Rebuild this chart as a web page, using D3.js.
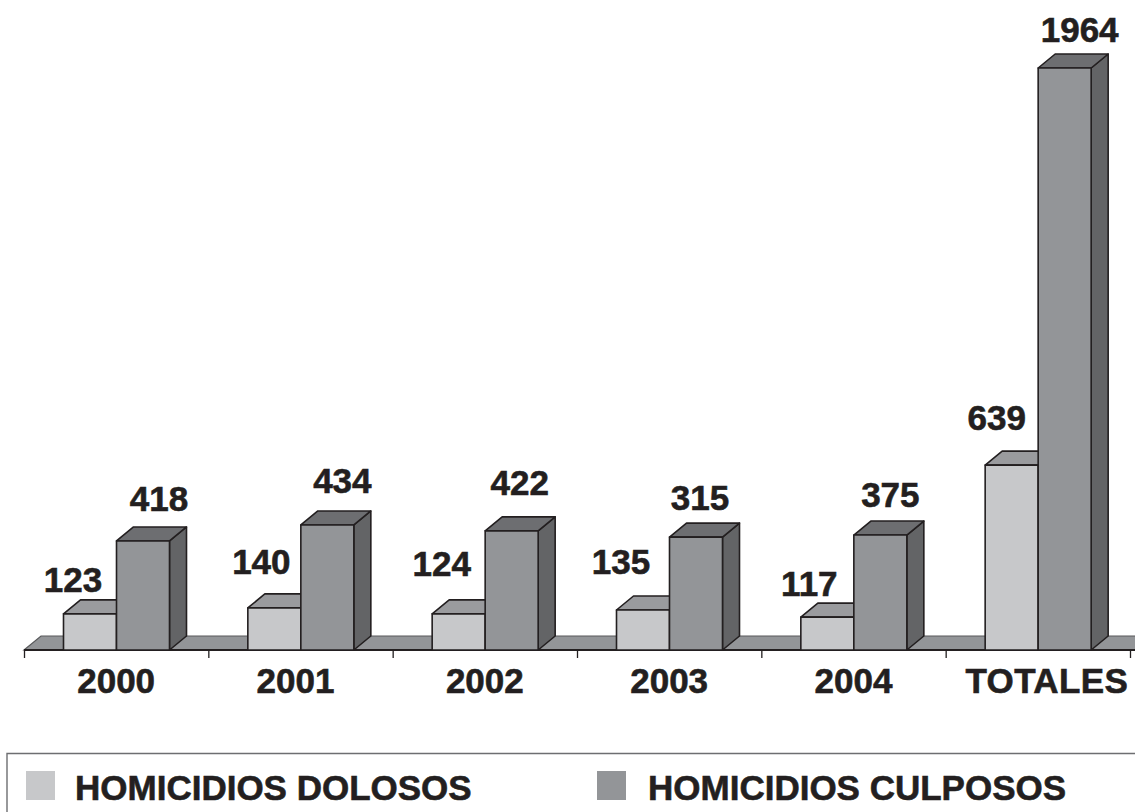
<!DOCTYPE html>
<html><head><meta charset="utf-8">
<script src="https://cdn.jsdelivr.net/npm/d3@7"></script>
<style>html,body{margin:0;padding:0;background:#fff;overflow:hidden}text{font-family:"Liberation Sans",Arial,sans-serif;font-weight:700;fill:#231f20;stroke:#231f20;stroke-width:.6px}</style>
</head><body><svg id="c" width="1135" height="812"></svg>
<script>
const categories = ["2000","2001","2002","2003","2004","TOTALES"];
const seriesNames = ["HOMICIDIOS DOLOSOS","HOMICIDIOS CULPOSOS"];
// printed data labels
const dolososLabels = [123,140,124,135,117,639];
const culpososLabels = [418,434,422,315,375,1964];
// bar heights as actually drawn in the picture, in value units
const dolososDrawn = [122,142,122,135,111,624];
const culpososDrawn = [368,422,402,381,388,1964];
// label nudges relative to each bar's centre / top
const dolososNudge = [[-17,-22],[-13,-34],[-17,-38],[-22,-36],[-18,-21],[-15,-35]];
const culpososNudge = [[16,-30],[15,-32],[8,-36],[4,-27],[10,-28],[15,-26]];
const categoryNudge = [0,-5,0,0,0,9];

const W=1135,H=812, base=650, depthX=17, depthY=14;
const svg=d3.select("#c");
const x=d3.scaleBand().domain(categories).range([24,1130]);
const inner=d3.scaleBand().domain(seriesNames).range([39.5,145.5]);
const y=d3.scaleLinear().domain([0,1964]).range([base,68]);
const ink="#231f20";
const poly=(pts,fill,sw=1.6)=>svg.append("polygon").attr("points",pts.map(p=>p.join(",")).join(" "))
  .attr("fill",fill).attr("stroke",ink).attr("stroke-width",sw).attr("stroke-linejoin","round");

// floor
svg.append("polygon").attr("points",[[24,base],[24+depthX,base-depthY],[1152,base-depthY],[1135,base]].map(p=>p.join(",")).join(" "))
  .attr("fill","#939598").attr("stroke","#58595b").attr("stroke-width",1.2);
svg.append("line").attr("x1",24).attr("x2",1135).attr("y1",base).attr("y2",base).attr("stroke",ink).attr("stroke-width",1.8);

// ticks
const axis=d3.axisBottom(d3.scaleLinear().domain([0,categories.length]).range([24,1130]))
  .ticks(categories.length).tickSize(8).tickFormat("");
const ag=svg.append("g").attr("transform",`translate(0,${base})`).call(axis);
ag.select(".domain").remove();
ag.selectAll("line").attr("stroke",ink).attr("stroke-width",1.3);

// bars
const styles=[{front:"#c7c8ca",top:"#9a9b9e"},{front:"#939598",top:"#6d6e71"}];
categories.forEach((c,i)=>{
  [dolososDrawn,culpososDrawn].forEach((arr,s)=>{
    const x0=x(c)+inner(seriesNames[s]), x1=x0+inner.bandwidth(), t=y(arr[i]), st=styles[s];
    poly([[x1,base],[x1+depthX,base-depthY],[x1+depthX,t-depthY],[x1,t]],"#636466");
    poly([[x0,t],[x0+depthX,t-depthY],[x1+depthX,t-depthY],[x1,t]],st.top);
    poly([[x0,base],[x0,t],[x1,t],[x1,base]],st.front);
  });
});
// data labels
const labelFont=35;
categories.forEach((c,i)=>{
  [[dolososLabels,dolososDrawn,dolososNudge],[culpososLabels,culpososDrawn,culpososNudge]].forEach(([lab,arr,n],s)=>{
    const cx=x(c)+inner(seriesNames[s])+inner.bandwidth()/2;
    svg.append("text").attr("x",cx+n[i][0]).attr("y",y(arr[i])+n[i][1])
      .attr("text-anchor","middle").attr("font-size",labelFont).text(lab[i]);
  });
});
// category labels
categories.forEach((c,i)=>{
  svg.append("text").attr("x",x(c)+x.bandwidth()/2+categoryNudge[i]).attr("y",693)
    .attr("text-anchor","middle").attr("font-size",labelFont).attr("letter-spacing",c==="TOTALES"?0.4:0).text(c);
});
// legend
svg.append("path").attr("d","M7,812V753.5H1135").attr("fill","none").attr("stroke","#6d6e71").attr("stroke-width",1.4);
const legendX=[26,597];
seriesNames.forEach((n,s)=>{
  svg.append("rect").attr("x",legendX[s]).attr("y",771).attr("width",29).attr("height",29).attr("fill",styles[s].front);
  svg.append("text").attr("x",legendX[s]+49+(s?2:0)).attr("y",800).attr("font-size",35).text(n);
});
</script></body></html>
